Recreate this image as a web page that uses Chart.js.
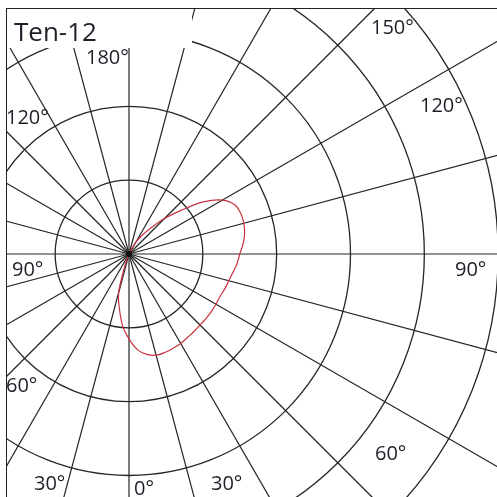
<!DOCTYPE html>
<html>
<head>
<meta charset="utf-8">
<script src="https://cdn.jsdelivr.net/npm/chart.js@4/dist/chart.umd.min.js"></script>
<style>
html,body{margin:0;padding:0;background:#fff;width:497px;height:497px;overflow:hidden;}
#frame{position:absolute;left:6px;top:8px;width:491px;height:489px;border-left:1px solid #222;border-top:1px solid #222;overflow:hidden;}
#c{position:absolute;left:-321px;top:-198px;}
#titlebox{position:absolute;left:7px;top:9px;width:185px;height:39px;background:#fff;}
.lbl{position:absolute;font-family:"Open Sans",sans-serif;font-size:20px;line-height:20px;color:#1e1e28;white-space:nowrap;}
#title{position:absolute;left:14px;top:18px;font-family:"Open Sans",sans-serif;font-size:26px;line-height:26px;color:#1e1e28;white-space:nowrap;}
</style>
</head>
<body>
<div id="frame"><canvas id="c" width="886" height="886"></canvas></div>
<div id="titlebox"></div>
<div id="title"></div>
<script>
// ---- data ----
const chartTitle = "Ten-12";
// direction angles (degrees, measured clockwise from nadir), 5 degree steps
const gammaLabels = [];
for (let a = 0; a < 360; a += 5) gammaLabels.push(a + "°");
// luminous intensity (grid ring = 100)
const intensity = [
  115, 98, 75, 54, 14,
  0, 0, 0, 0, 0, 0, 0, 0, 0, 0, 0, 0,
  0, 0, 0, 0, 0, 0, 0, 0, 0, 0, 0, 0,
  0, 0, 0, 0, 0, 0, 0, 0, 0, 0, 0, 0,
  5, 18, 31, 46, 68, 92, 123, 146, 158, 161, 161, 159,
  155, 150, 147, 143, 140, 138, 136, 136, 136, 136, 136, 137,
  138, 140, 141, 142, 142, 138, 130
];
const ringMax = 600;
const ringStep = 100;
// degree labels written on the diagram
const degreeTexts = ["180°", "150°", "120°", "120°", "90°", "90°", "60°", "60°", "30°", "0°", "30°"];
const degreeLeft = [86, 371, 420, 6, 12, 455, 6, 375, 34, 134, 211];
const degreeBaseline = [65, 35, 113, 125, 277, 277, 393, 461, 491, 496, 491];

// ---- text ----
document.getElementById('title').textContent = chartTitle;
degreeTexts.forEach((t, i) => {
  const d = document.createElement('div');
  d.className = 'lbl';
  d.textContent = t;
  d.style.left = degreeLeft[i] + 'px';
  d.style.top = (degreeBaseline[i] - 18) + 'px';
  document.body.appendChild(d);
});

// ---- chart ----
const gridColor = '#262626';
const centerDot = {
  id: 'centerDot',
  afterDraw(chart) {
    const s = chart.scales.r;
    const ctx = chart.ctx;
    ctx.save();
    ctx.fillStyle = '#111';
    ctx.beginPath();
    ctx.arc(s.xCenter, s.yCenter, 3, 0, Math.PI * 2);
    ctx.fill();
    ctx.restore();
  }
};
new Chart(document.getElementById('c'), {
  type: 'radar',
  data: {
    labels: gammaLabels,
    datasets: [{
      data: intensity,
      borderColor: '#c8323f',
      borderWidth: 1.2,
      backgroundColor: 'rgba(0,0,0,0)',
      fill: false,
      pointRadius: 0,
      tension: 0.35
    }]
  },
  options: {
    responsive: false,
    animation: false,
    devicePixelRatio: 1,
    layout: { padding: 0 },
    plugins: { legend: { display: false }, tooltip: { enabled: false }, title: { display: false } },
    scales: {
      r: {
        min: 0,
        max: ringMax,
        startAngle: 180,
        ticks: { display: false, stepSize: ringStep },
        pointLabels: { display: false },
        grid: {
          circular: true,
          lineWidth: 1.3,
          color: (ctx) => (ctx.tick && ctx.tick.value >= ringMax) ? 'rgba(0,0,0,0)' : gridColor
        },
        angleLines: {
          display: true,
          color: gridColor,
          lineWidth: (ctx) => (ctx.index % 3 === 0 ? 1.2 : 0)
        }
      }
    }
  },
  plugins: [centerDot]
});
</script>
</body>
</html>
